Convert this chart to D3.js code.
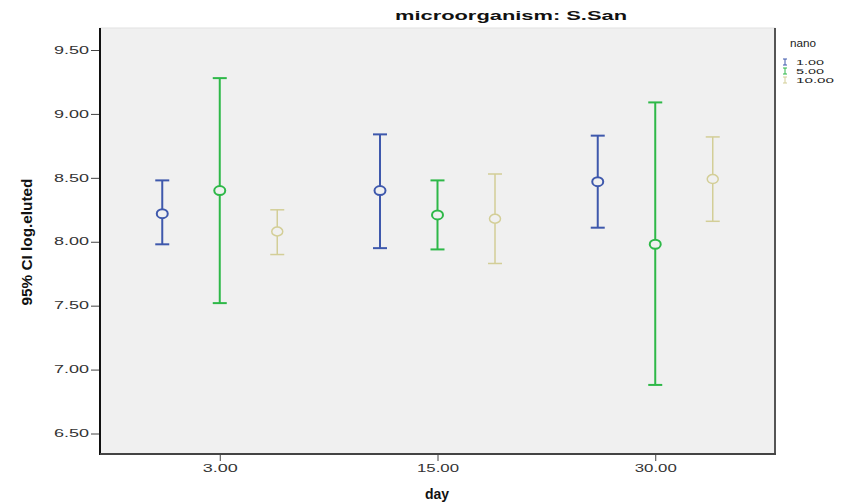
<!DOCTYPE html>
<html lang="en">
<head>
  <meta charset="UTF-8" />
  <title>microorganism: S.San</title>
  <script src="https://cdn.jsdelivr.net/npm/d3@7"></script>
  <style>
    body { margin: 0; background: #fff; }
    svg { display: block; font-family: "Liberation Sans", Arial, sans-serif; }
  </style>
</head>
<body>
  <div id="chart"></div>
  <script>
    // Data: mean and 95% CI of log.eluted
    const days = ["3.00", "15.00", "30.00"];
    const nanos = ["1.00", "5.00", "10.00"];
    const colors = ["#3e58ac", "#2eb848", "#d3ce97"];
    const yTicks = [6.5, 7.0, 7.5, 8.0, 8.5, 9.0, 9.5];

    // rows = nano, columns = day
    const means = [
      [8.22, 8.40, 8.47],
      [8.40, 8.21, 7.98],
      [8.08, 8.18, 8.49]
    ];
    const lower = [
      [7.98, 7.95, 8.11],
      [7.52, 7.94, 6.88],
      [7.90, 7.83, 8.16]
    ];
    const upper = [
      [8.48, 8.84, 8.83],
      [9.28, 8.48, 9.09],
      [8.25, 8.53, 8.82]
    ];

    const W = 845, H = 504;
    const plot = {left: 100, right: 775, top: 28, bottom: 454};

    const svg = d3.select("#chart").append("svg")
      .attr("width", W)
      .attr("height", H);

    const x = d3.scalePoint()
      .domain(days)
      .range([plot.left, plot.right])
      .padding(0.55);

    const dx = d3.scalePoint()
      .domain(nanos)
      .range([-57.5, 57.5]);

    const y = d3.scaleLinear()
      .domain([6.5, 9.5])
      .range([433.5, 50]);

    // plot background
    svg.append("rect")
      .attr("x", plot.left)
      .attr("y", plot.top)
      .attr("width", plot.right - plot.left)
      .attr("height", plot.bottom - plot.top)
      .attr("fill", "#f0f0f0")
      .attr("stroke", "#e2e2e2")
      .attr("stroke-width", 1);

    // right frame line
    svg.append("line")
      .attr("x1", plot.right).attr("x2", plot.right)
      .attr("y1", plot.top).attr("y2", plot.bottom)
      .attr("stroke", "#555")
      .attr("stroke-width", 2);

    // y axis
    const yAxis = svg.append("g")
      .attr("transform", `translate(${plot.left},0)`)
      .call(d3.axisLeft(y).tickValues(yTicks).tickFormat(d3.format(".2f")).tickSize(9).tickPadding(2));
    yAxis.select(".domain").remove();
    yAxis.selectAll(".tick line").attr("stroke", "#444");
    yAxis.selectAll(".tick text")
      .attr("fill", "#333")
      .attr("font-size", 10)
      .attr("textLength", 35)
      .attr("lengthAdjust", "spacingAndGlyphs");

    // x axis
    const xAxis = svg.append("g")
      .attr("transform", `translate(0,${plot.bottom})`)
      .call(d3.axisBottom(x).tickSize(7).tickPadding(4));
    xAxis.select(".domain").remove();
    xAxis.selectAll(".tick line").attr("stroke", "#444");
    xAxis.selectAll(".tick text")
      .attr("fill", "#333")
      .attr("font-size", 10)
      .attr("textLength", d => d.length === 4 ? 35 : 42)
      .attr("lengthAdjust", "spacingAndGlyphs");

    // left and bottom axis lines
    svg.append("line")
      .attr("x1", plot.left).attr("x2", plot.left)
      .attr("y1", plot.top).attr("y2", plot.bottom + 1)
      .attr("stroke", "#111").attr("stroke-width", 2);
    svg.append("line")
      .attr("x1", plot.left).attr("x2", plot.right + 1)
      .attr("y1", plot.bottom).attr("y2", plot.bottom)
      .attr("stroke", "#444").attr("stroke-width", 2);

    // error bars
    const cap = 7;
    nanos.forEach((n, i) => {
      const g = svg.append("g").attr("stroke", colors[i]).attr("fill", "none")
        .attr("stroke-width", i === 2 ? 1.5 : 2);
      days.forEach((d, j) => {
        const cx = x(d) + dx(n);
        g.append("line")
          .attr("x1", cx).attr("x2", cx)
          .attr("y1", y(lower[i][j])).attr("y2", y(upper[i][j]));
        g.append("line")
          .attr("x1", cx - cap).attr("x2", cx + cap)
          .attr("y1", y(upper[i][j])).attr("y2", y(upper[i][j]));
        g.append("line")
          .attr("x1", cx - cap).attr("x2", cx + cap)
          .attr("y1", y(lower[i][j])).attr("y2", y(lower[i][j]));
        g.append("ellipse")
          .attr("cx", cx).attr("cy", y(means[i][j]))
          .attr("rx", 5.5).attr("ry", 4.5)
          .attr("fill", "#f0f0f0");
      });
    });

    // title
    svg.append("text")
      .attr("x", 511).attr("y", 20)
      .attr("text-anchor", "middle")
      .attr("font-size", 12)
      .attr("font-weight", "bold")
      .attr("fill", "#111")
      .attr("textLength", 232)
      .attr("lengthAdjust", "spacingAndGlyphs")
      .text("microorganism: S.San");

    // axis titles
    svg.append("text")
      .attr("x", 437).attr("y", 499)
      .attr("text-anchor", "middle")
      .attr("font-size", 14)
      .attr("font-weight", "bold")
      .attr("fill", "#111")
      .text("day");

    svg.append("text")
      .attr("transform", "translate(32,242) rotate(-90)")
      .attr("text-anchor", "middle")
      .attr("font-size", 14)
      .attr("font-weight", "bold")
      .attr("fill", "#111")
      .attr("textLength", 127)
      .attr("lengthAdjust", "spacingAndGlyphs")
      .text("95% CI log.eluted");

    // legend
    const legend = svg.append("g").attr("transform", "translate(785,0)");
    legend.append("text")
      .attr("x", 5).attr("y", 47)
      .attr("font-size", 11)
      .attr("fill", "#222")
      .attr("textLength", 26)
      .attr("lengthAdjust", "spacingAndGlyphs")
      .text("nano");
    nanos.forEach((n, i) => {
      const yy = 62 + i * 9;
      const it = legend.append("g").attr("stroke", colors[i]).attr("stroke-width", 1);
      it.append("line").attr("x1", -2).attr("x2", 2).attr("y1", yy - 3).attr("y2", yy - 3);
      it.append("line").attr("x1", 0).attr("x2", 0).attr("y1", yy - 3).attr("y2", yy + 3);
      it.append("line").attr("x1", -2).attr("x2", 2).attr("y1", yy + 3).attr("y2", yy + 3);
      legend.append("text")
        .attr("x", 11).attr("y", yy + 3)
        .attr("font-size", 7.5)
        .attr("fill", "#222")
        .attr("textLength", n.length === 4 ? 28 : 38)
        .attr("lengthAdjust", "spacingAndGlyphs")
        .text(n);
    });
  </script>
</body>
</html>
